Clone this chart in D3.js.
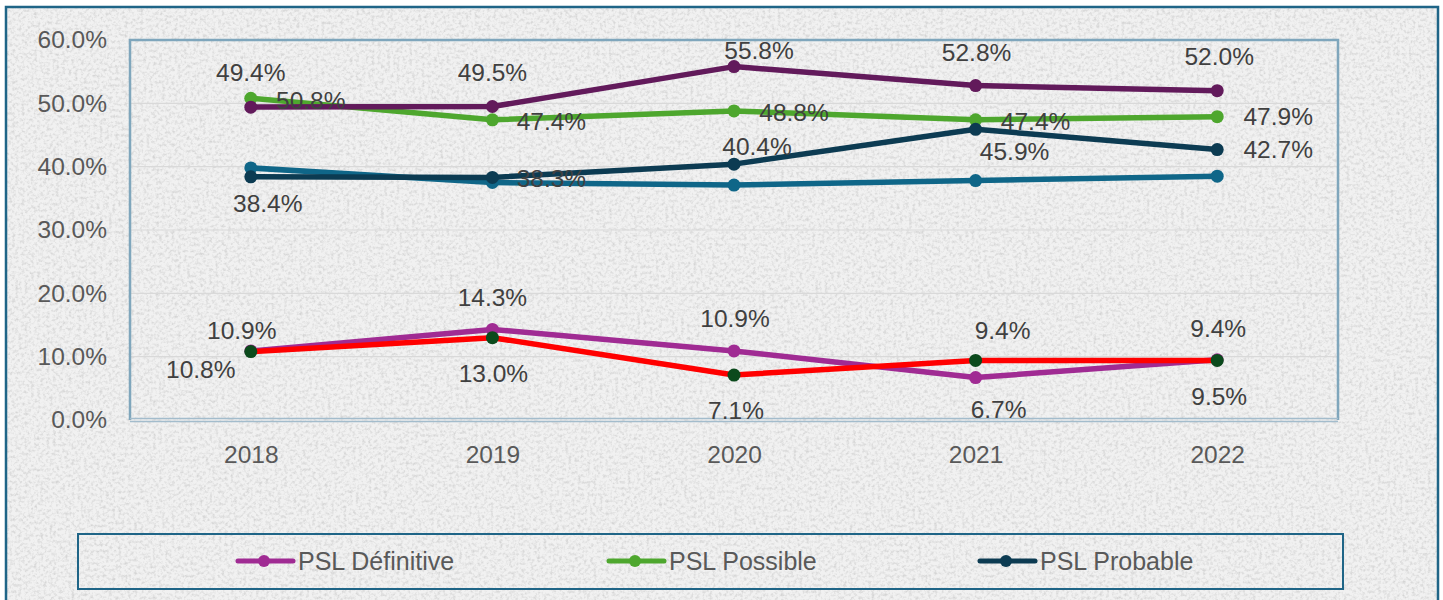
<!DOCTYPE html>
<html>
<head>
<meta charset="utf-8">
<script src="https://cdn.jsdelivr.net/npm/d3@7"></script>
<style>
  html, body { margin: 0; padding: 0; background: #ffffff; }
  svg { display: block; }
  text { font-family: "Liberation Sans", Arial, sans-serif; }
</style>
</head>
<body>
<svg id="chart" width="1443" height="600"></svg>
<script>
// ---- Data ----
const categories = ["2018", "2019", "2020", "2021", "2022"];
const yTickValues = [0, 10, 20, 30, 40, 50, 60];

const pslDefinitive = [10.9, 14.3, 10.9, 6.7, 9.5];
const pslPossible   = [50.8, 47.4, 48.8, 47.4, 47.9];
const pslProbable   = [38.4, 38.3, 40.4, 45.9, 42.7];
const serieViolet   = [49.4, 49.5, 55.8, 52.8, 52.0];
const serieBleue    = [39.8, 37.5, 37.1, 37.8, 38.5];
const serieRouge    = [10.8, 13.0, 7.1, 9.4, 9.4];

const legendNames = ["PSL Définitive", "PSL Possible", "PSL Probable"];

// ---- Styling / label placement (relative offsets from each marker) ----
const series = [
  { name: "PSL Possible", values: pslPossible, color: "#4EA72E", marker: "#4EA72E",
    labelOff: [[60,2],[59,1],[60,1],[60,1],[61,0]] },
  { name: "Série violette", values: serieViolet, color: "#621A5B", marker: "#621A5B",
    labelOff: [[0,-35],[0,-34],[25,-16],[1,-33],[2,-34]] },
  { name: "Série bleue", values: serieBleue, color: "#0F6688", marker: "#0F6688",
    labelOff: null },
  { name: "PSL Probable", values: pslProbable, color: "#0C3B52", marker: "#0C3B52",
    labelOff: [[17,26],[59,1],[23,-18],[39,22],[61,0]] },
  { name: "PSL Définitive", values: pslDefinitive, color: "#A02B93", marker: "#A02B93",
    labelOff: [[-9,-21],[0,-32],[1,-33],[23,32],[2,36]] },
  { name: "Série rouge", values: serieRouge, color: "#FF0000", marker: "#0B4A1C",
    labelOff: [[-50,18],[1,36],[2,35],[27,-30],[1,-32]] }
];

const svg = d3.select("#chart");
const W = 1443, H = 600;
const plot = { left: 130, right: 1338, top: 40, bottom: 420 };

// ---- Background texture ----
const defs = svg.append("defs");
const f = defs.append("filter").attr("id", "granite")
  .attr("x", 0).attr("y", 0).attr("width", "100%").attr("height", "100%");
f.append("feTurbulence").attr("type", "fractalNoise")
  .attr("baseFrequency", "0.32").attr("numOctaves", 3).attr("seed", 11).attr("result", "noise");
f.append("feColorMatrix").attr("in", "noise").attr("type", "matrix")
  .attr("values", "0 0 0 0 0.55  0 0 0 0 0.55  0 0 0 0 0.55  2.4 0 0 0 -1.05");

svg.append("rect").attr("x", 0).attr("y", 0).attr("width", W).attr("height", H).attr("fill", "#ffffff");
svg.append("rect").attr("x", 6).attr("y", 7).attr("width", 1432).attr("height", 620).attr("fill", "#F1F1F1");
svg.append("rect").attr("x", 6).attr("y", 7).attr("width", 1432).attr("height", 620)
  .attr("filter", "url(#granite)").attr("opacity", 0.6);
svg.append("rect").attr("x", 6).attr("y", 7).attr("width", 1432).attr("height", 620)
  .attr("fill", "none").attr("stroke", "#1F6587").attr("stroke-width", 2.5);

// ---- Scales ----
const x = d3.scalePoint().domain(categories).range([plot.left, plot.right]).padding(0.5);
const y = d3.scaleLinear().domain([0, 60]).range([plot.bottom, plot.top]);

// gridlines
svg.append("g").selectAll("line").data(yTickValues.filter(v => v > 0 && v < 60)).join("line")
  .attr("x1", plot.left).attr("x2", plot.right)
  .attr("y1", d => y(d)).attr("y2", d => y(d))
  .attr("stroke", "#D9D9D9").attr("stroke-width", 1.2);

// plot area border (top, left, right)
svg.append("path")
  .attr("d", `M${plot.left},${plot.bottom} V${plot.top} H${plot.right} V${plot.bottom}`)
  .attr("fill", "none").attr("stroke", "#7FA6BC").attr("stroke-width", 2.5);
// bottom axis double line
svg.append("line").attr("x1", plot.left).attr("x2", plot.right)
  .attr("y1", plot.bottom - 1.5).attr("y2", plot.bottom - 1.5)
  .attr("stroke", "#A3BCCC").attr("stroke-width", 1.5);
svg.append("line").attr("x1", plot.left).attr("x2", plot.right)
  .attr("y1", plot.bottom + 1.5).attr("y2", plot.bottom + 1.5)
  .attr("stroke", "#A3BCCC").attr("stroke-width", 1.5);

// axes
const fmt = d => d.toFixed(1) + "%";
const yAxis = svg.append("g").attr("transform", `translate(${plot.left},0)`)
  .call(d3.axisLeft(y).tickValues(yTickValues).tickFormat(fmt).tickSize(0).tickPadding(23));
yAxis.select(".domain").remove();
yAxis.selectAll("text").attr("font-size", 24.5).attr("fill", "#595959")
  .attr("font-family", "'Liberation Sans', Arial, sans-serif");

const xAxis = svg.append("g").attr("transform", `translate(0,${plot.bottom})`)
  .call(d3.axisBottom(x).tickSize(0).tickPadding(26));
xAxis.select(".domain").remove();
xAxis.selectAll("text").attr("font-size", 24.5).attr("fill", "#595959")
  .attr("font-family", "'Liberation Sans', Arial, sans-serif");

// ---- Lines & markers ----
const line = d3.line().x((d, i) => x(categories[i])).y(d => y(d));
series.forEach(s => {
  const g = svg.append("g");
  g.append("path").datum(s.values).attr("d", line)
    .attr("fill", "none").attr("stroke", s.color).attr("stroke-width", 5.5)
    .attr("stroke-linejoin", "round").attr("stroke-linecap", "round");
  g.selectAll("circle").data(s.values).join("circle")
    .attr("cx", (d, i) => x(categories[i])).attr("cy", d => y(d))
    .attr("r", 6.5).attr("fill", s.marker);
});

// ---- Data labels ----
series.forEach(s => {
  if (!s.labelOff) return;
  svg.append("g").selectAll("text").data(s.values).join("text")
    .attr("x", (d, i) => x(categories[i]) + s.labelOff[i][0])
    .attr("y", (d, i) => y(d) + s.labelOff[i][1])
    .attr("dy", "0.36em")
    .attr("text-anchor", "middle")
    .attr("font-size", 24.5).attr("fill", "#404040")
    .text(d => fmt(d));
});

// ---- Legend ----
const legend = svg.append("g");
legend.append("rect").attr("x", 78).attr("y", 534).attr("width", 1265).attr("height", 55)
  .attr("fill", "none").attr("stroke", "#1F6587").attr("stroke-width", 2);
const legendX = d3.scalePoint().domain(legendNames).range([264, 1006]);
legendNames.forEach(n => {
  const s = series.find(t => t.name === n);
  const cx = legendX(n);
  const cy = 561;
  legend.append("line").attr("x1", cx - 26).attr("x2", cx + 29).attr("y1", cy).attr("y2", cy)
    .attr("stroke", s.color).attr("stroke-width", 5).attr("stroke-linecap", "round");
  legend.append("circle").attr("cx", cx).attr("cy", cy).attr("r", 6).attr("fill", s.marker);
  legend.append("text").attr("x", cx + 34).attr("y", cy).attr("dy", "0.36em")
    .attr("font-size", 25).attr("fill", "#595959").text(n);
});
</script>
</body>
</html>
